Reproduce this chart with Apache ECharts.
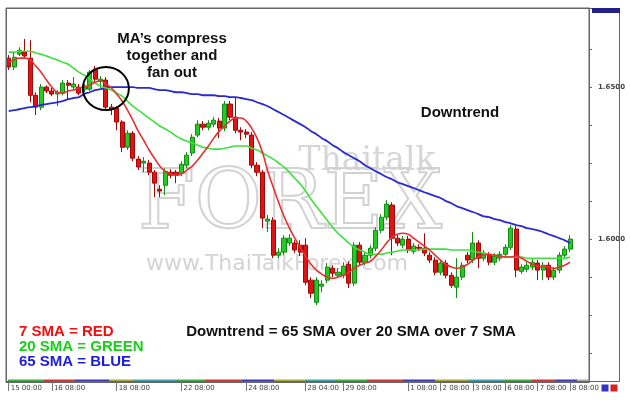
<!DOCTYPE html>
<html><head><meta charset="utf-8">
<script src="https://cdn.jsdelivr.net/npm/echarts@6/dist/echarts.min.js"></script>
<style>html,body{margin:0;padding:0;background:#fff}#c{width:630px;height:400px}</style>
</head><body><div id="c"></div>
<script>
// 4-hour candles, index 0 = "15 00:00"
const opens = [1.6595,1.6566,1.6608,1.6615,1.6595,1.6473,1.6434,1.6500,1.6487,1.6477,
1.6480,1.6513,1.6500,1.6500,1.6493,1.6493,1.6559,1.6520,1.6523,1.6434,
1.6431,1.6385,1.6302,1.6348,1.6263,1.6250,1.6250,1.6220,1.6164,1.6177,
1.6220,1.6220,1.6217,1.6243,1.6283,1.6342,1.6378,1.6368,1.6378,1.6388,
1.6365,1.6444,1.6401,1.6358,1.6352,1.6342,1.6243,1.6220,1.6059,1.6062,
1.5947,1.5957,1.5987,1.5987,1.5980,1.5980,1.5865,1.5792,1.5845,1.5865,
1.5904,1.5881,1.5881,1.5917,1.5855,1.5980,1.5924,1.5947,1.5970,1.6029,
1.6072,1.6112,1.6003,1.5980,1.6000,1.5960,1.5973,1.5970,1.5947,1.5931,
1.5891,1.5921,1.5881,1.5842,1.5875,1.5947,1.5931,1.5987,1.5937,1.5947,
1.5924,1.5937,1.5950,1.5973,1.6033,1.5894,1.5901,1.5908,1.5921,1.5898,
1.5914,1.5875,1.5898,1.5947,1.5967];
const closes = [1.6566,1.6598,1.6621,1.6602,1.6473,1.6434,1.6500,1.6487,1.6477,1.6483,
1.6513,1.6506,1.6510,1.6480,1.6503,1.6549,1.6526,1.6526,1.6434,1.6427,
1.6385,1.6302,1.6348,1.6266,1.6237,1.6256,1.6220,1.6184,1.6158,1.6223,
1.6210,1.6210,1.6246,1.6276,1.6335,1.6378,1.6368,1.6381,1.6391,1.6365,
1.6444,1.6401,1.6358,1.6352,1.6345,1.6243,1.6220,1.6069,1.6066,1.5947,
1.5957,1.6003,1.6003,1.5964,1.5957,1.5858,1.5822,1.5865,1.5852,1.5908,
1.5888,1.5891,1.5911,1.5855,1.5980,1.5924,1.5947,1.5970,1.6029,1.6072,
1.6115,1.6003,1.5987,1.6000,1.5964,1.5977,1.5970,1.5954,1.5931,1.5891,
1.5921,1.5881,1.5848,1.5875,1.5914,1.5931,1.5987,1.5937,1.5954,1.5924,
1.5944,1.5950,1.5973,1.6036,1.5898,1.5908,1.5914,1.5924,1.5898,1.5914,
1.5875,1.5898,1.5947,1.5967,1.6000];
const lows = [1.6556,1.6556,1.6602,1.6595,1.6450,1.6408,1.6424,1.6480,1.6470,1.6437,
1.6473,1.6457,1.6490,1.6473,1.6483,1.6487,1.6516,1.6497,1.6424,1.6408,
1.6358,1.6286,1.6293,1.6256,1.6227,1.6220,1.6210,1.6138,1.6138,1.6144,
1.6200,1.6184,1.6207,1.6233,1.6273,1.6335,1.6358,1.6358,1.6368,1.6332,
1.6355,1.6391,1.6348,1.6325,1.6332,1.6233,1.6207,1.6036,1.6023,1.5937,
1.5937,1.5947,1.5977,1.5954,1.5944,1.5848,1.5806,1.5783,1.5825,1.5855,
1.5875,1.5871,1.5871,1.5839,1.5845,1.5911,1.5914,1.5937,1.5960,1.6019,
1.6062,1.5947,1.5977,1.5970,1.5954,1.5950,1.5960,1.5944,1.5921,1.5881,
1.5881,1.5871,1.5839,1.5806,1.5865,1.5921,1.5921,1.5904,1.5927,1.5914,
1.5914,1.5927,1.5941,1.5964,1.5875,1.5885,1.5891,1.5898,1.5865,1.5865,
1.5865,1.5865,1.5888,1.5937,1.5957];
const highs = [1.6605,1.6615,1.6631,1.6658,1.6654,1.6483,1.6510,1.6506,1.6497,1.6490,
1.6523,1.6523,1.6533,1.6510,1.6510,1.6556,1.6569,1.6536,1.6533,1.6444,
1.6437,1.6391,1.6358,1.6355,1.6273,1.6270,1.6260,1.6227,1.6177,1.6233,
1.6230,1.6227,1.6256,1.6286,1.6345,1.6391,1.6388,1.6391,1.6401,1.6398,
1.6454,1.6454,1.6467,1.6368,1.6362,1.6352,1.6253,1.6227,1.6079,1.6072,
1.5970,1.6013,1.6016,1.5996,1.5996,1.6003,1.5875,1.5875,1.5865,1.5921,
1.5914,1.5904,1.5924,1.5927,1.5990,1.5990,1.5957,1.5980,1.6039,1.6082,
1.6128,1.6121,1.6013,1.6010,1.6010,1.5987,1.5983,1.6019,1.5957,1.5941,
1.5931,1.5931,1.5891,1.5937,1.5924,1.5957,1.6023,1.5996,1.5964,1.5957,
1.5954,1.5960,1.5983,1.6046,1.6043,1.5917,1.5924,1.5934,1.5931,1.5924,
1.5924,1.5908,1.5957,1.5977,1.6013];
const sma7 = [1.6582,1.6589,1.6595,1.6595,1.6589,1.6569,1.6549,1.6523,1.6500,1.6483,
1.6480,1.6487,1.6490,1.6497,1.6500,1.6506,1.6516,1.6520,1.6510,1.6497,
1.6477,1.6454,1.6424,1.6391,1.6355,1.6325,1.6293,1.6266,1.6240,1.6223,
1.6214,1.6210,1.6214,1.6227,1.6240,1.6260,1.6283,1.6306,1.6332,1.6355,
1.6372,1.6388,1.6398,1.6398,1.6388,1.6365,1.6332,1.6286,1.6223,1.6171,
1.6121,1.6075,1.6036,1.6003,1.5973,1.5944,1.5917,1.5898,1.5885,1.5875,
1.5871,1.5875,1.5881,1.5891,1.5904,1.5914,1.5921,1.5927,1.5944,1.5964,
1.5987,1.6006,1.6016,1.6019,1.6016,1.6003,1.5990,1.5977,1.5964,1.5947,
1.5931,1.5917,1.5908,1.5904,1.5908,1.5917,1.5931,1.5941,1.5947,1.5950,
1.5947,1.5944,1.5941,1.5941,1.5944,1.5937,1.5927,1.5917,1.5911,1.5908,
1.5908,1.5904,1.5908,1.5914,1.5924];
const sma20 = [1.6615,1.6615,1.6618,1.6618,1.6618,1.6612,1.6608,1.6602,1.6595,1.6589,
1.6582,1.6575,1.6562,1.6549,1.6539,1.6526,1.6513,1.6503,1.6497,1.6490,
1.6480,1.6470,1.6454,1.6437,1.6424,1.6411,1.6398,1.6385,1.6372,1.6362,
1.6352,1.6339,1.6329,1.6322,1.6316,1.6309,1.6302,1.6299,1.6296,1.6296,
1.6299,1.6302,1.6306,1.6306,1.6306,1.6299,1.6293,1.6283,1.6273,1.6263,
1.6250,1.6237,1.6220,1.6200,1.6181,1.6158,1.6131,1.6108,1.6085,1.6062,
1.6039,1.6019,1.6003,1.5987,1.5973,1.5964,1.5957,1.5950,1.5950,1.5950,
1.5954,1.5957,1.5960,1.5964,1.5964,1.5964,1.5964,1.5967,1.5967,1.5967,
1.5967,1.5967,1.5964,1.5964,1.5964,1.5964,1.5960,1.5957,1.5954,1.5950,
1.5947,1.5944,1.5941,1.5941,1.5941,1.5941,1.5937,1.5937,1.5937,1.5937,
1.5937,1.5937,1.5937,1.5937,1.5941];
const sma65 = [1.6421,1.6424,1.6427,1.6431,1.6434,1.6437,1.6441,1.6444,1.6447,1.6450,
1.6454,1.6460,1.6464,1.6467,1.6477,1.6483,1.6490,1.6493,1.6497,1.6500,
1.6500,1.6500,1.6500,1.6500,1.6497,1.6497,1.6497,1.6493,1.6490,1.6490,
1.6487,1.6483,1.6483,1.6480,1.6477,1.6477,1.6473,1.6473,1.6473,1.6470,
1.6470,1.6467,1.6467,1.6464,1.6460,1.6457,1.6450,1.6444,1.6437,1.6427,
1.6418,1.6408,1.6398,1.6388,1.6378,1.6368,1.6355,1.6345,1.6332,1.6322,
1.6309,1.6299,1.6286,1.6276,1.6266,1.6256,1.6243,1.6233,1.6223,1.6214,
1.6204,1.6197,1.6187,1.6181,1.6174,1.6168,1.6161,1.6154,1.6148,1.6141,
1.6135,1.6125,1.6118,1.6108,1.6102,1.6095,1.6089,1.6082,1.6075,1.6072,
1.6066,1.6062,1.6056,1.6052,1.6046,1.6043,1.6036,1.6033,1.6029,1.6023,
1.6016,1.6010,1.6003,1.5996,1.5987];
const timeLabels = ['15 00:00','16 08:00','18 08:00','22 08:00','24 08:00','28 04:00','29 08:00','1 08:00','2 08:00','3 08:00','6 08:00','7 08:00','8 08:00'];
const timeLabelIdx = [0,8,20,32,44,55,62,74,80,86,92,98,104];
const priceLabels = [1.6500, 1.6000];
const priceTicks = [1.6625,1.6500,1.6375,1.6250,1.6125,1.6000,1.5875,1.5750,1.5625];
const slotCount = 108; // candles plus empty right-hand shift

const labelMap = {};
timeLabelIdx.forEach((k, j) => { labelMap[k] = timeLabels[j]; });
const categories = [];
for (let i = 0; i < slotCount; i++) categories.push('s' + i);
const candles = opens.map((o, i) => [o, closes[i], lows[i], highs[i]]);

const chart = echarts.init(document.getElementById('c'), null, {renderer: 'canvas'});
const stripColors = ['#3fae3f','#c83a3a','#3a3ab0','#a8a838','#3aa8a8'];
const stripEdges = [8,44,75,109,133,177,205,242,274,306,335,367,403,435,468,504,532,556,577,589];
const strip = [];
for (let k = 0; k < stripEdges.length - 1; k++) {
  strip.push({type:'rect', silent:true, z:50,
    shape:{x:stripEdges[k], y:379.5, width:stripEdges[k+1]-stripEdges[k], height:2.5},
    style:{fill: k === stripEdges.length - 2 ? '#aaaaaa' : stripColors[k % 5]}});
}

const boldFont = 'Liberation Sans, Arial, sans-serif';
const option = {
  animation: false,
  backgroundColor: '#ffffff',
  grid: {left: 6, right: 41, top: 8, bottom: 18, show: true, borderColor: '#666', borderWidth: 1, backgroundColor: 'transparent'},
  xAxis: {
    type: 'category', data: categories, boundaryGap: true,
    axisLine: {show: true, lineStyle: {color: '#666'}},
    axisTick: {show: true, alignWithLabel: true, length: 9, lineStyle: {color: '#777'},
      interval: (i) => labelMap[i] !== undefined},
    axisLabel: {show: true, interval: (i) => labelMap[i] !== undefined,
      formatter: (v, i) => labelMap[i] || '', align: 'left', padding: [0,0,0,2], margin: 3,
      fontSize: 7, fontFamily: 'DejaVu Sans', color: '#444'},
    splitLine: {show: false}
  },
  yAxis: {
    type: 'value', position: 'right', min: 1.553, max: 1.676, scale: true,
    axisLine: {show: true, lineStyle: {color: '#666'}},
    axisTick: {show: true, length: 3, customValues: priceTicks, lineStyle: {color: '#666'}},
    axisLabel: {show: true, customValues: priceLabels, formatter: (v) => v.toFixed(4),
      margin: 9, fontSize: 7, fontWeight: 'bold', fontFamily: 'DejaVu Sans', color: '#444'},
    splitLine: {show: false}
  },
  series: [
    {type: 'candlestick', data: candles, barWidth: 4.6, z: 3,
      itemStyle: {color: '#22cc22', color0: '#e01414', borderColor: '#158a15', borderColor0: '#a00808', borderWidth: 1}},
    {type: 'line', data: sma65, symbol: 'none', smooth: true, z: 5, lineStyle: {color: '#2a2ad2', width: 1.8}},
    {type: 'line', data: sma20, symbol: 'none', smooth: true, z: 5, lineStyle: {color: '#3ee03e', width: 1.6}},
    {type: 'line', data: sma7, symbol: 'none', smooth: true, z: 6, lineStyle: {color: '#e83030', width: 1.6}}
  ],
  graphic: [
    // watermark
    {type:'text', silent:true, z:0, x:367, y:161, style:{text:'Thaitalk', fontSize:33, fontFamily:'DejaVu Serif', fill:'#d6d6d6', align:'center', verticalAlign:'middle', textAlign:'center', textVerticalAlign:'middle'}},
    {type:'text', silent:true, z:0, x:290, y:207, style:{text:'FOREX', fontSize:82, fontFamily:'DejaVu Serif', fill:'rgba(255,255,255,0)', stroke:'#d2d2d2', lineWidth:2, align:'center', verticalAlign:'middle', textAlign:'center', textVerticalAlign:'middle'}},
    {type:'text', silent:true, z:0, x:277, y:264, style:{text:'www.ThaiTalkForex.com', fontSize:22, fontFamily:'DejaVu Sans', fill:'#d4d4d4', align:'center', verticalAlign:'middle', textAlign:'center', textVerticalAlign:'middle'}},
    // annotations
    {type:'text', z:100, x:172, y:30, style:{text:'MA’s compress\ntogether and\nfan out', fontSize:15, fontWeight:'bold', fontFamily:boldFont, fill:'#111', lineHeight:17, align:'center', verticalAlign:'top', textAlign:'center', textVerticalAlign:'top'}},
    {type:'text', z:100, x:460, y:113, style:{text:'Downtrend', fontSize:15, fontWeight:'bold', fontFamily:boldFont, fill:'#111', align:'center', verticalAlign:'middle', textAlign:'center', textVerticalAlign:'middle'}},
    {type:'text', z:100, x:351, y:332, style:{text:'Downtrend = 65 SMA over 20 SMA over 7 SMA', fontSize:15, fontWeight:'bold', fontFamily:boldFont, fill:'#111', align:'center', verticalAlign:'middle', textAlign:'center', textVerticalAlign:'middle'}},
    {type:'text', z:100, x:19, y:332, style:{text:'7 SMA = RED', fontSize:15, fontWeight:'bold', fontFamily:boldFont, fill:'#f01010', align:'left', verticalAlign:'middle', textAlign:'left', textVerticalAlign:'middle'}},
    {type:'text', z:100, x:19, y:347, style:{text:'20 SMA = GREEN', fontSize:15, fontWeight:'bold', fontFamily:boldFont, fill:'#18d018', align:'left', verticalAlign:'middle', textAlign:'left', textVerticalAlign:'middle'}},
    {type:'text', z:100, x:19, y:362, style:{text:'65 SMA = BLUE', fontSize:15, fontWeight:'bold', fontFamily:boldFont, fill:'#1c1ce0', align:'left', verticalAlign:'middle', textAlign:'left', textVerticalAlign:'middle'}},
    // frame pieces
    {type:'rect', silent:true, z:60, shape:{x:6.5, y:8.5, width:613, height:373}, style:{fill:'none', stroke:'#666', lineWidth:1}},
    {type:'rect', silent:true, z:60, shape:{x:592, y:8, width:28, height:5}, style:{fill:'#22228a'}},
    {type:'rect', silent:true, z:60, shape:{x:601, y:384, width:8, height:8}, style:{fill:'#3434c4', stroke:'#ffffff', lineWidth:1}},
    {type:'rect', silent:true, z:60, shape:{x:610, y:384, width:8, height:8}, style:{fill:'#d42424', stroke:'#ffffff', lineWidth:1}}
  ].concat(strip)
};
chart.setOption(option);

// circle around the crossover zone, placed through the chart's own scales
const ctr = chart.convertToPixel({gridIndex: 0}, [18, 1.6495]);
chart.setOption({graphic: option.graphic.concat([
  {type:'ellipse', z:100, silent:true, shape:{cx: ctr[0], cy: ctr[1], rx: 23, ry: 21.5}, style:{fill:'none', stroke:'#000', lineWidth:2}}
])});
</script>
</body></html>
